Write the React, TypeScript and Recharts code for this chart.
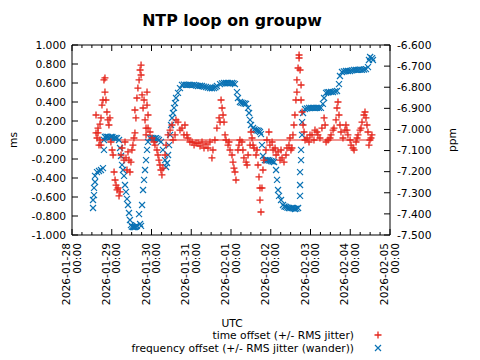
import React from "react";
import {
  ScatterChart,
  Scatter,
  XAxis,
  YAxis,
  ReferenceLine,
  ReferenceArea,
} from "recharts";

// hours since 2026-01-28 00:00 UTC, time offset in ms
const timeOffset: [number, number][] = [
  [14.5, 0.263], [14.5, 0.074], [15.1, 0.021], [15.7, 0.074], [15.7, 0.126], [16.3, -0.053],
  [16.9, 0.168], [16.9, 0.0], [17.5, -0.053], [17.5, 0.232], [18.1, 0.368], [18.7, 0.421],
  [19.3, 0.632], [19.9, 0.653], [19.9, 0.505], [20.5, 0.421], [21.1, 0.295], [21.7, 0.211],
  [22.3, 0.158], [22.9, 0.232], [23.5, -0.021], [24.2, -0.105], [24.8, -0.158], [25.4, -0.337],
  [26.0, -0.421], [26.6, -0.474], [27.2, -0.526], [27.8, -0.505], [28.4, -0.589], [29.0, -0.547],
  [29.6, -0.158], [30.2, -0.084], [31.4, -0.211], [32.0, -0.021], [32.6, -0.189], [33.2, -0.316],
  [33.8, -0.126], [34.4, -0.211], [35.0, -0.337], [35.6, -0.232], [36.2, -0.105], [36.8, -0.053],
  [37.4, 0.021], [38.0, 0.074], [38.0, 0.316], [38.6, 0.232], [39.2, 0.442], [39.8, 0.547],
  [40.5, 0.632], [41.1, 0.737], [41.7, 0.789], [41.7, 0.684], [42.3, 0.474], [42.9, 0.337],
  [43.5, 0.421], [44.1, 0.211], [44.7, 0.126], [44.7, 0.053], [45.3, 0.505], [45.3, 0.368],
  [45.9, 0.263], [45.9, 0.126], [47.1, 0.084], [48.3, 0.021], [49.5, -0.021], [50.1, -0.053],
  [51.3, -0.105], [51.9, -0.158], [52.5, -0.211], [53.1, -0.263], [53.7, -0.316], [54.3, -0.368],
  [54.9, -0.295], [56.2, -0.158], [56.8, -0.053], [58.0, 0.053], [59.2, 0.105], [60.4, 0.158],
  [61.0, 0.0], [62.2, 0.053], [62.8, 0.211], [64.0, 0.189], [65.2, 0.105], [66.4, 0.126],
  [67.6, 0.053], [68.2, 0.158], [69.4, 0.053], [70.0, 0.021], [71.2, -0.021], [72.5, -0.021],
  [73.7, -0.053], [74.9, -0.032], [76.1, -0.032], [77.3, -0.063], [78.5, -0.021], [79.7, -0.084],
  [80.9, -0.042], [82.1, -0.084], [83.3, -0.021], [84.5, -0.189], [85.1, -0.105], [86.3, 0.0],
  [87.5, 0.126], [88.8, 0.232], [89.4, 0.189], [90.0, 0.421], [90.6, 0.337], [91.2, 0.263],
  [91.8, 0.189], [92.4, 0.053], [93.0, 0.0], [94.2, -0.053], [94.8, -0.021], [95.4, -0.105],
  [96.6, -0.158], [97.2, -0.232], [97.8, -0.295], [98.4, -0.337], [99.0, -0.421], [100.2, -0.105],
  [100.8, -0.053], [101.4, 0.0], [102.6, -0.021], [103.2, -0.105], [103.8, -0.189], [105.1, -0.232],
  [105.7, -0.263], [106.3, -0.158], [107.5, -0.053], [108.1, 0.084], [108.7, 0.021], [109.3, -0.053],
  [109.9, -0.084], [111.1, -0.158], [111.7, -0.105], [112.3, -0.263], [112.9, -0.389], [113.5, -0.505],
  [113.5, -0.632], [114.1, -0.758], [114.7, -0.505], [115.3, -0.316], [115.9, -0.211], [117.1, -0.105],
  [117.7, 0.0], [118.9, 0.084], [119.5, -0.053], [120.8, -0.021], [121.4, -0.105], [122.6, -0.084],
  [123.2, -0.158], [124.4, -0.126], [125.6, -0.211], [126.2, -0.105], [126.8, -0.189], [128.0, -0.232],
  [129.2, -0.158], [129.8, -0.084], [131.0, -0.053], [131.6, 0.021], [132.2, -0.105], [132.8, -0.084],
  [133.4, 0.053], [134.0, 0.158], [134.6, 0.263], [135.2, 0.421], [135.8, 0.505], [135.8, 0.632],
  [136.5, 0.758], [137.1, 0.863], [137.1, 0.895], [137.7, 0.737], [138.3, 0.579], [138.3, 0.421],
  [138.9, 0.295], [139.5, 0.158], [140.1, 0.084], [140.7, 0.0], [141.9, 0.021], [143.1, -0.021],
  [143.7, 0.053], [144.9, 0.053], [146.1, 0.0], [146.7, 0.105], [147.9, 0.084], [148.5, 0.053],
  [149.7, 0.021], [150.9, 0.126], [152.2, 0.232], [152.8, 0.158], [153.4, -0.021], [154.6, 0.0],
  [155.8, 0.021], [156.4, 0.053], [157.6, 0.105], [158.2, 0.126], [159.4, 0.211], [160.0, 0.337],
  [160.6, 0.4], [161.2, 0.263], [161.8, 0.158], [162.4, 0.084], [163.6, 0.021], [164.8, 0.105],
  [165.4, 0.158], [166.0, 0.105], [166.6, 0.053], [167.9, 0.0], [168.5, -0.053], [169.7, -0.084],
  [170.3, -0.105], [171.5, -0.021], [172.1, 0.021], [172.7, 0.053], [173.9, 0.105], [174.5, 0.126],
  [175.1, 0.189], [176.3, 0.263], [176.9, 0.295], [177.5, 0.232], [178.1, 0.158], [178.7, 0.084],
  [179.3, -0.053], [179.9, 0.0], [180.5, 0.021], [181.1, 0.053],
];

// hours since 2026-01-28 00:00 UTC, frequency offset in ppm
const freqOffset: [number, number][] = [
  [12.7, -7.372], [12.7, -7.334], [13.3, -7.311], [13.3, -7.277], [13.9, -7.249], [13.9, -7.22],
  [15.1, -7.202], [16.3, -7.197], [17.5, -7.192], [18.7, -7.183], [19.3, -7.097], [19.3, -7.05],
  [19.9, -7.036], [20.8, -7.034], [21.7, -7.036], [22.6, -7.038], [23.5, -7.036], [24.4, -7.036],
  [25.4, -7.041], [26.3, -7.04], [27.2, -7.041], [28.4, -7.05],
  [29.0, -7.088], [29.6, -7.126], [30.2, -7.168], [30.8, -7.192], [31.4, -7.22], [32.0, -7.263],
  [32.6, -7.296], [33.2, -7.329], [33.8, -7.358], [34.4, -7.396], [35.0, -7.429], [35.6, -7.453],
  [36.2, -7.46], [36.8, -7.462], [37.4, -7.463], [38.0, -7.462], [38.6, -7.46], [39.2, -7.457],
  [40.5, -7.401], [41.1, -7.448], [41.7, -7.457],
  [42.3, -7.358], [42.9, -7.287], [43.5, -7.239], [44.1, -7.192], [44.7, -7.145], [45.3, -7.097],
  [45.9, -7.059], [47.1, -7.041], [48.0, -7.04], [48.9, -7.041], [49.8, -7.042], [50.7, -7.041],
  [51.6, -7.045], [52.5, -7.05], [53.7, -7.059],
  [54.9, -7.097], [56.2, -7.145], [56.8, -7.178], [57.4, -7.159], [58.0, -7.121], [58.6, -7.074],
  [59.2, -7.026], [59.8, -6.979], [60.4, -6.946], [61.0, -6.922], [61.6, -6.898], [62.2, -6.875],
  [62.8, -6.851], [64.0, -6.827], [65.2, -6.804], [66.4, -6.789], [67.6, -6.788], [68.8, -6.789],
  [70.0, -6.789], [71.2, -6.789], [72.5, -6.79], [73.7, -6.789], [74.9, -6.792], [76.1, -6.794],
  [77.3, -6.793], [78.5, -6.794], [79.7, -6.797], [80.9, -6.799], [82.1, -6.802], [83.3, -6.804],
  [84.5, -6.805], [85.7, -6.804], [86.6, -6.8],
  [87.5, -6.794], [89.4, -6.785], [90.6, -6.782], [91.8, -6.78], [93.0, -6.78], [94.2, -6.78],
  [95.4, -6.781], [96.6, -6.78], [97.5, -6.782], [98.4, -6.785],
  [99.6, -6.823], [100.2, -6.851], [101.4, -6.87], [102.3, -6.873], [103.2, -6.875], [104.2, -6.877],
  [105.1, -6.879], [106.3, -6.898],
  [106.9, -6.922], [107.5, -6.955], [108.1, -6.979], [109.3, -6.993], [110.2, -7.0], [111.1, -7.003],
  [112.0, -7.005], [112.9, -7.007], [113.5, -7.012],
  [114.1, -7.022], [114.7, -7.074], [115.3, -7.126], [116.5, -7.145], [117.4, -7.146], [118.3, -7.145],
  [119.2, -7.147], [120.2, -7.15], [121.1, -7.152],
  [122.0, -7.154], [123.2, -7.192], [123.8, -7.239], [124.4, -7.287], [125.0, -7.315], [126.2, -7.334],
  [127.4, -7.358], [128.3, -7.365], [129.2, -7.367], [130.1, -7.37], [131.0, -7.372], [131.9, -7.373],
  [132.8, -7.372], [133.7, -7.374], [134.6, -7.377], [135.5, -7.375], [136.5, -7.372],
  [137.7, -7.315], [137.7, -7.263], [137.7, -7.202], [138.3, -7.145], [138.3, -7.097], [138.9, -7.026],
  [138.9, -6.965], [139.5, -6.922], [140.7, -6.903], [141.9, -6.9], [143.1, -6.898], [144.3, -6.898],
  [145.5, -6.898], [146.7, -6.899], [147.9, -6.898], [149.1, -6.898],
  [150.3, -6.898], [151.5, -6.879], [152.2, -6.851], [153.4, -6.827], [154.3, -6.824], [155.2, -6.823],
  [156.4, -6.822], [157.6, -6.823], [158.8, -6.82],
  [160.0, -6.818], [161.2, -6.785], [161.8, -6.747], [163.0, -6.728], [164.2, -6.725], [165.4, -6.723],
  [166.6, -6.723], [167.9, -6.723], [169.1, -6.72],
  [170.3, -6.718], [171.5, -6.718], [172.7, -6.718], [173.9, -6.717], [175.1, -6.718], [176.3, -6.716],
  [177.5, -6.714], [178.7, -6.705], [179.3, -6.671],
  [180.0, -6.657], [181.2, -6.662], [181.7, -6.671],
];

const dayLabels = [
  "2026-01-28", "2026-01-29", "2026-01-30", "2026-01-31", "2026-02-01",
  "2026-02-02", "2026-02-03", "2026-02-04", "2026-02-05",
];
const msTicks = [-1, -0.8, -0.6, -0.4, -0.2, 0, 0.2, 0.4, 0.6, 0.8, 1];
const ppmTicks = [-7.5, -7.4, -7.3, -7.2, -7.1, -7.0, -6.9, -6.8, -6.7, -6.6];
const zeroLineSpan = [18, 181.5];

const xTicks: number[] = [];
for (let d = 0; d < dayLabels.length; d++) {
  for (let q = 0; q < 4; q++) {
    const h = d * 24 + q * 6;
    if (h <= (dayLabels.length - 1) * 24) xTicks.push(h);
  }
}

const redData = timeOffset.map(([h, v]) => ({ h, v }));
const blueData = freqOffset.map(([h, v]) => ({ h, v }));

const W = 480;
const H = 360;
const PLOT_TOP = 45;
const PLOT_BOTTOM = 235;
const PLOT_LEFT = 72;
const PLOT_RIGHT = 390;
const PLOT_H = PLOT_BOTTOM - PLOT_TOP;
const FONT = "'DejaVu Sans', sans-serif";
const FS = 10.7;
const RED = "#e5261c";
const BLUE = "#0a72b4";

const XTick = (props: any) => {
  const { x, y, payload } = props;
  const v = payload.value as number;
  const major = v % 24 === 0;
  const len = major ? 6 : 3;
  const label = major ? dayLabels[v / 24] : null;
  return (
    <g>
      <line x1={x} x2={x} y1={y} y2={y - len} stroke="#000" strokeWidth={1} />
      <line x1={x} x2={x} y1={y - PLOT_H} y2={y - PLOT_H + len} stroke="#000" strokeWidth={1} />
      {label && (
        <text
          transform={`translate(${x},${y}) rotate(-90)`}
          textAnchor="end"
          fontFamily={FONT}
          fontSize={FS}
          fill="#000"
        >
          <tspan x={-8} y={-2}>{label}</tspan>
          <tspan x={-8} y={8.5}>00:00</tspan>
        </text>
      )}
    </g>
  );
};

const LeftTick = (props: any) => {
  const { x, y, payload } = props;
  return (
    <g>
      <line x1={x} x2={x + 6} y1={y} y2={y} stroke="#000" />
      <text x={x - 6} y={y} dy={3.8} textAnchor="end" fontFamily={FONT} fontSize={FS} fill="#000">
        {(payload.value as number).toFixed(3)}
      </text>
    </g>
  );
};

const RightTick = (props: any) => {
  const { x, y, payload } = props;
  return (
    <g>
      <line x1={x} x2={x - 6} y1={y} y2={y} stroke="#000" />
      <text x={x + 7} y={y} dy={3.8} textAnchor="start" fontFamily={FONT} fontSize={FS} fill="#000">
        {(payload.value as number).toFixed(3)}
      </text>
    </g>
  );
};

const PlusShape = (p: any) => (
  <path
    d={`M${p.cx - 3.5},${p.cy}h7M${p.cx},${p.cy - 3.5}v7`}
    stroke={RED}
    strokeWidth={1.3}
    fill="none"
  />
);

const CrossShape = (p: any) => (
  <path
    d={`M${p.cx - 3},${p.cy - 3}l6,6M${p.cx - 3},${p.cy + 3}l6,-6`}
    stroke={BLUE}
    strokeWidth={1.2}
    fill="none"
  />
);

export default function App() {
  return (
    <div style={{ position: "absolute", left: 0, top: 0, width: W, height: H, background: "#fff" }}>
      <ScatterChart
        width={W}
        height={H}
        margin={{ top: PLOT_TOP, right: 0, bottom: 0, left: 0 }}
      >
        <XAxis
          type="number"
          dataKey="h"
          domain={[0, 192]}
          ticks={xTicks}
          interval={0}
          tick={<XTick />}
          tickLine={false}
          axisLine={false}
          tickSize={0}
          tickMargin={0}
          height={H - PLOT_BOTTOM}
          allowDataOverflow
        />
        <YAxis
          yAxisId="left"
          type="number"
          dataKey="v"
          domain={[-1, 1]}
          ticks={msTicks}
          interval={0}
          tick={<LeftTick />}
          tickLine={false}
          axisLine={false}
          tickSize={0}
          tickMargin={0}
          width={PLOT_LEFT}
          allowDataOverflow
        />
        <YAxis
          yAxisId="right"
          orientation="right"
          type="number"
          dataKey="v"
          domain={[-7.5, -6.6]}
          ticks={ppmTicks}
          interval={0}
          tick={<RightTick />}
          tickLine={false}
          axisLine={false}
          tickSize={0}
          tickMargin={0}
          width={W - PLOT_RIGHT}
          allowDataOverflow
        />
        <ReferenceArea
          yAxisId="left"
          x1={0}
          x2={192}
          y1={-1}
          y2={1}
          fill="none"
          fillOpacity={0}
          stroke="#000"
          strokeWidth={1}
          ifOverflow="visible"
        />
        <Scatter
          name="frequency offset (+/- RMS jitter (wander))"
          data={blueData}
          yAxisId="right"
          shape={CrossShape}
          isAnimationActive={false}
        />
        <ReferenceLine
          yAxisId="left"
          segment={[
            { x: zeroLineSpan[0], y: 0 },
            { x: zeroLineSpan[1], y: 0 },
          ]}
          stroke={RED}
          strokeWidth={1.2}
        />
        <Scatter
          name="time offset (+/- RMS jitter)"
          data={redData}
          yAxisId="left"
          shape={PlusShape}
          isAnimationActive={false}
        />
      </ScatterChart>
      <svg
        width={W}
        height={H}
        style={{ position: "absolute", left: 0, top: 0, pointerEvents: "none" }}
      >
        <text x={232} y={26} textAnchor="middle" fontFamily={FONT} fontWeight="bold" fontSize={15.8} fill="#000">
          NTP loop on groupw
        </text>
        <text
          transform={`translate(17,140) rotate(-90)`}
          textAnchor="middle"
          fontFamily={FONT}
          fontSize={FS}
          fill="#000"
        >
          ms
        </text>
        <text
          transform={`translate(456,140) rotate(-90)`}
          textAnchor="middle"
          fontFamily={FONT}
          fontSize={FS}
          fill="#000"
        >
          ppm
        </text>
        <text x={232} y={327} textAnchor="middle" fontFamily={FONT} fontSize={FS} fill="#000">
          UTC
        </text>
        <text x={354} y={338.5} textAnchor="end" fontFamily={FONT} fontSize={FS} fill="#000">
          time offset (+/- RMS jitter)
        </text>
        <path d="M374.5,335h7M378,331.5v7" stroke={RED} strokeWidth={1.3} fill="none" />
        <text x={354} y={351.5} textAnchor="end" fontFamily={FONT} fontSize={FS} fill="#000">
          frequency offset (+/- RMS jitter (wander))
        </text>
        <path d="M375,345l6,6M375,351l6,-6" stroke={BLUE} strokeWidth={1.2} fill="none" />
      </svg>
    </div>
  );
}
